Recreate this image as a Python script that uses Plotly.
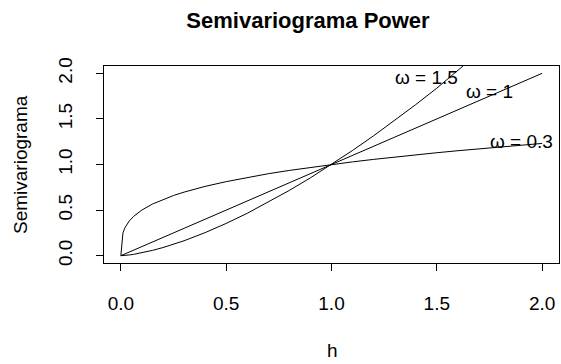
import plotly.graph_objects as go

# values
h = [0, 0.01, 0.02, 0.04, 0.06, 0.08, 0.1, 0.15, 0.2, 0.25, 0.3, 0.4, 0.5, 0.6, 0.7,
     0.8, 0.9, 1.0, 1.1, 1.2, 1.3, 1.4, 1.5, 1.6, 1.7, 1.8, 1.9, 2.0]
gamma_03 = [0, 0.251, 0.309, 0.381, 0.430, 0.469, 0.501, 0.566, 0.617, 0.660, 0.697, 0.760,
            0.812, 0.858, 0.899, 0.935, 0.969, 1.0, 1.029, 1.056, 1.082, 1.106, 1.129,
            1.151, 1.172, 1.193, 1.212, 1.231]
gamma_1 = [0, 0.01, 0.02, 0.04, 0.06, 0.08, 0.1, 0.15, 0.2, 0.25, 0.3, 0.4, 0.5, 0.6, 0.7,
           0.8, 0.9, 1.0, 1.1, 1.2, 1.3, 1.4, 1.5, 1.6, 1.7, 1.8, 1.9, 2.0]
gamma_15 = [0, 0.001, 0.0028, 0.008, 0.0147, 0.0226, 0.0316, 0.0581, 0.0894, 0.125, 0.164,
            0.253, 0.354, 0.465, 0.586, 0.716, 0.854, 1.0, 1.154, 1.315, 1.482, 1.657,
            1.837, 2.024, 2.217, 2.415, 2.619, 2.828]

labels = ["ω = 1.5", "ω = 1", "ω = 0.3"]
label_x = [1.45, 1.75, 1.90]
label_y = [1.95, 1.80, 1.25]

x_ticks = [0.0, 0.5, 1.0, 1.5, 2.0]
y_ticks = [0.0, 0.5, 1.0, 1.5, 2.0]
tick_text = ["0.0", "0.5", "1.0", "1.5", "2.0"]

FONT = "Liberation Sans, Arial, sans-serif"

fig = go.Figure()
for ys in (gamma_03, gamma_1, gamma_15):
    fig.add_trace(go.Scatter(x=h, y=ys, mode="lines",
                             line=dict(color="black", width=1), showlegend=False,
                             hoverinfo="skip"))

for t, lx, ly in zip(labels, label_x, label_y):
    fig.add_annotation(x=lx, y=ly, xref="x", yref="y", text=t, showarrow=False,
                       font=dict(family=FONT, size=19, color="black"),
                       xanchor="center", yanchor="middle")

fig.add_annotation(x=332 / 561, y=1 - 350 / 364, xref="paper", yref="paper", text="h",
                   showarrow=False, font=dict(family=FONT, size=19, color="black"),
                   xanchor="center", yanchor="middle")

W, H = 561, 364
ml, mr, mt, mb = 104, 2, 66, 101
pw, ph = W - ml - mr, H - mt - mb


def px_to_paper_x(px):
    return (px - ml) / pw


def px_to_paper_y(py):
    return (H - mb - py) / ph


fig.add_annotation(x=px_to_paper_x(332), y=px_to_paper_y(350), xref="paper", yref="paper",
                   text="h", showarrow=False,
                   font=dict(family=FONT, size=19, color="black"),
                   xanchor="center", yanchor="middle")
fig.add_annotation(x=px_to_paper_x(20), y=px_to_paper_y(165), xref="paper", yref="paper",
                   text="Semivariograma", showarrow=False, textangle=-90,
                   font=dict(family=FONT, size=19, color="black"),
                   xanchor="center", yanchor="middle")
fig.layout.annotations = fig.layout.annotations[:3] + fig.layout.annotations[4:]

fig.update_layout(
    width=W, height=H,
    margin=dict(l=ml, r=mr, t=mt, b=mb),
    paper_bgcolor="white", plot_bgcolor="white",
    title=dict(text="<b>Semivariograma Power</b>", x=308 / W, y=1 - 20 / H,
               xanchor="center", yanchor="middle", xref="container", yref="container",
               font=dict(family=FONT, size=22, color="black")),
    xaxis=dict(range=[-0.08, 2.08], tickvals=x_ticks, ticktext=tick_text,
               showgrid=False, zeroline=False, showline=True, mirror=True,
               linecolor="black", linewidth=1, ticks="outside", ticklen=7,
               tickcolor="black", ticklabelstandoff=16,
               tickfont=dict(family=FONT, size=19, color="black")),
    yaxis=dict(range=[-0.08, 2.08], tickvals=y_ticks, ticktext=tick_text,
               showgrid=False, zeroline=False, showline=True, mirror=True,
               linecolor="black", linewidth=1, ticks="outside", ticklen=7,
               tickcolor="black", tickangle=-90, ticklabelstandoff=16,
               tickfont=dict(family=FONT, size=19, color="black")),
)

fig.write_html("out.html")
